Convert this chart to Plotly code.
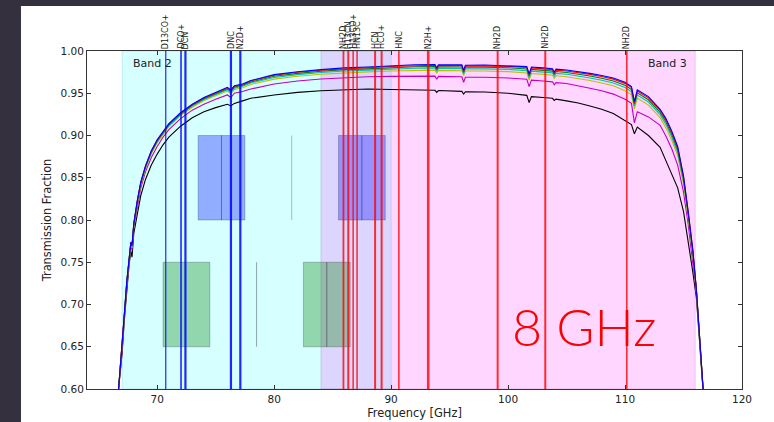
import plotly.graph_objects as go

# ---------------- data ----------------
freq = [66.70, 66.85, 67.00, 67.20, 67.40, 67.60, 67.75, 67.85, 68.00, 68.30,
        68.60, 69.00, 69.50, 70.00, 70.50, 71.00, 72.00, 73.00, 74.00, 75.00,
        76.00, 76.30, 76.60, 77.30, 78.00, 80.00, 82.00, 84.00, 86.00, 88.00,
        90.00, 92.00, 93.75, 93.90, 94.05, 96.05, 96.20, 96.35, 98.00, 100.00,
        101.60, 101.80, 102.00, 103.00, 103.80, 103.95, 104.10, 105.00, 106.00, 107.00,
        108.00, 109.00, 110.00, 110.55, 110.80, 111.05, 112.00, 113.00, 113.50, 114.00,
        114.50, 115.00, 115.40, 115.80, 116.10, 116.30, 116.50, 116.70]

trans_blue = [.6000, .6250, .6480, .6900, .7270, .7550, .7740, .7700, .7960, .8230,
              .8450, .8640, .8820, .8950, .9050, .9140, .9270, .9370, .9450, .9510,
              .9570, .9540, .9590, .9610, .9650, .9720, .9755, .9780, .9800, .9810,
              .9825, .9838, .9840, .9800, .9838, .9836, .9770, .9832, .9834, .9828,
              .9815, .9730, .9810, .9800, .9790, .9750, .9785, .9775, .9758, .9735,
              .9710, .9680, .9630, .9580, .9400, .9540, .9460, .9310, .9200, .9050,
              .8870, .8520, .8100, .7640, .7180, .6760, .6350, .5950]

trans_red = [.6000, .6249, .6478, .6898, .7268, .7548, .7737, .7696, .7956, .8226,
             .8445, .8635, .8815, .8945, .9045, .9135, .9265, .9365, .9445, .9505,
             .9564, .9534, .9584, .9604, .9644, .9713, .9748, .9773, .9792, .9802,
             .9817, .9829, .9831, .9791, .9829, .9827, .9762, .9823, .9824, .9818,
             .9805, .9720, .9800, .9790, .9780, .9740, .9774, .9764, .9747, .9723,
             .9698, .9667, .9617, .9567, .9389, .9527, .9446, .9297, .9185, .9035,
             .8855, .8507, .8090, .7632, .7177, .6759, .6349, .5949]

trans_green = [.6000, .6247, .6475, .6894, .7264, .7544, .7731, .7689, .7950, .8219,
               .8437, .8627, .8806, .8936, .9037, .9127, .9257, .9357, .9436, .9496,
               .9554, .9525, .9573, .9594, .9633, .9701, .9735, .9760, .9779, .9789,
               .9803, .9814, .9816, .9777, .9814, .9811, .9748, .9807, .9808, .9802,
               .9788, .9703, .9782, .9772, .9762, .9723, .9757, .9746, .9728, .9704,
               .9678, .9646, .9594, .9544, .9370, .9505, .9423, .9274, .9160, .9010,
               .8831, .8486, .8072, .7619, .7172, .6757, .6348, .5948]

trans_cyan = [.6000, .6244, .6472, .6890, .7259, .7539, .7725, .7680, .7943, .8210,
              .8428, .8618, .8796, .8926, .9028, .9118, .9248, .9348, .9426, .9485,
              .9542, .9513, .9561, .9582, .9621, .9686, .9721, .9745, .9764, .9774,
              .9786, .9796, .9797, .9759, .9795, .9792, .9731, .9788, .9789, .9782,
              .9767, .9682, .9761, .9751, .9741, .9703, .9735, .9724, .9706, .9681,
              .9654, .9621, .9567, .9517, .9347, .9478, .9396, .9247, .9130, .8980,
              .8801, .8461, .8051, .7604, .7166, .6754, .6346, .5946]

trans_yellow = [.6000, .6241, .6467, .6885, .7252, .7532, .7716, .7669, .7934, .8199,
                .8415, .8605, .8783, .8913, .9015, .9105, .9235, .9335, .9413, .9470,
                .9526, .9498, .9544, .9566, .9604, .9667, .9701, .9725, .9743, .9753,
                .9763, .9772, .9773, .9736, .9771, .9767, .9708, .9763, .9764, .9756,
                .9740, .9655, .9733, .9723, .9713, .9676, .9707, .9695, .9676, .9650,
                .9622, .9588, .9531, .9481, .9316, .9443, .9359, .9211, .9090, .8940,
                .8762, .8428, .8023, .7583, .7158, .6751, .6343, .5943]

trans_magenta = [.6000, .6230, .6450, .6870, .7230, .7510, .7690, .7640, .7910, .8170,
                 .8380, .8570, .8740, .8870, .8980, .9070, .9200, .9300, .9370, .9430,
                 .9480, .9450, .9500, .9520, .9550, .9610, .9645, .9668, .9685, .9695,
                 .9700, .9703, .9703, .9665, .9700, .9695, .9630, .9690, .9690, .9680,
                 .9665, .9580, .9655, .9645, .9635, .9600, .9625, .9615, .9590, .9560,
                 .9530, .9490, .9430, .9380, .9150, .9280, .9220, .9120, .8990, .8840,
                 .8650, .8330, .7950, .7520, .7130, .6740, .6340, .5940]

trans_black = [.6000, .6210, .6420, .6830, .7190, .7470, .7630, .7560, .7840, .8090,
               .8290, .8480, .8650, .8780, .8890, .8980, .9110, .9210, .9280, .9330,
               .9370, .9350, .9380, .9410, .9440, .9480, .9510, .9530, .9540, .9550,
               .9545, .9540, .9535, .9510, .9532, .9522, .9490, .9518, .9515, .9500,
               .9475, .9390, .9460, .9450, .9440, .9415, .9430, .9410, .9385, .9350,
               .9310, .9260, .9180, .9130, .9020, .9100, .9000, .8860, .8700, .8550,
               .8380, .8100, .7750, .7380, .7080, .6720, .6320, .5920]

# Band coverage (GHz)
band2_range = [67.0, 90.0]
band3_range = [84.0, 116.0]

# Molecular lines (GHz)
blue_line_names = ["D13CO+", "DCO+", "DCN", "DNC", "N2D+"]
blue_line_freqs = [70.733, 72.039, 72.415, 76.306, 77.109]
blue_line_widths = [1.2, 1.6, 2.2, 2.2, 2.2]

red_line_names = ["NH2D", "H13CN", "H13CO+", "HN13C", "HCN", "HCO+", "HNC",
                  "N2H+", "NH2D", "NH2D", "NH2D"]
red_line_freqs = [85.926, 86.340, 86.754, 87.091, 88.632, 89.189, 90.664,
                  93.173, 99.110, 103.180, 110.150]
red_line_widths = [1.8, 2.0, 1.5, 1.5, 2.0, 2.0, 1.6, 2.6, 2.0, 2.0, 1.6]

# Spectral windows (GHz) and local oscillators
blue_spw_lo = [73.5, 75.5, 85.5, 87.5]
blue_spw_hi = [75.5, 77.5, 87.5, 89.5]
blue_spw_ylim = [0.80, 0.90]
blue_lo_freq = 81.5

green_spw_lo = [70.5, 82.5, 84.5]
green_spw_hi = [74.5, 84.5, 86.5]
green_spw_ylim = [0.65, 0.75]
green_lo_freq = 78.5

x_ticks = [70, 80, 90, 100, 110, 120]
y_ticks = [0.60, 0.65, 0.70, 0.75, 0.80, 0.85, 0.90, 0.95, 1.00]

# ---------------- figure ----------------
FONT = "DejaVu Sans"
fig = go.Figure()

series = [
    (trans_black, "#000000"),
    (trans_magenta, "#c000c0"),
    (trans_yellow, "#c0c000"),
    (trans_cyan, "#00c0c0"),
    (trans_green, "#008000"),
    (trans_red, "#ff0000"),
    (trans_blue, "#0000ff"),
]
for vals, col in series:
    fig.add_trace(go.Scatter(x=freq, y=vals, mode="lines",
                             line=dict(color=col, width=1.1),
                             showlegend=False, hoverinfo="skip"))

shapes = []
# band shading
shapes.append(dict(type="rect", xref="x", yref="paper", x0=band2_range[0], x1=band2_range[1],
                   y0=0, y1=1, fillcolor="rgba(0,255,255,0.16)",
                   line=dict(color="rgba(0,120,120,0.15)", width=1), layer="below"))
shapes.append(dict(type="rect", xref="x", yref="paper", x0=band3_range[0], x1=band3_range[1],
                   y0=0, y1=1, fillcolor="rgba(255,0,255,0.16)",
                   line=dict(color="rgba(120,0,120,0.15)", width=1), layer="below"))
# spectral windows
for lo, hi in zip(blue_spw_lo, blue_spw_hi):
    shapes.append(dict(type="rect", xref="x", yref="y", x0=lo, x1=hi,
                       y0=blue_spw_ylim[0], y1=blue_spw_ylim[1],
                       fillcolor="rgba(0,0,255,0.32)",
                       line=dict(color="rgba(0,0,0,0.22)", width=1), layer="below"))
for lo, hi in zip(green_spw_lo, green_spw_hi):
    shapes.append(dict(type="rect", xref="x", yref="y", x0=lo, x1=hi,
                       y0=green_spw_ylim[0], y1=green_spw_ylim[1],
                       fillcolor="rgba(0,128,0,0.32)",
                       line=dict(color="rgba(0,0,0,0.22)", width=1), layer="below"))
shapes.append(dict(type="line", xref="x", yref="y", x0=blue_lo_freq, x1=blue_lo_freq,
                   y0=blue_spw_ylim[0], y1=blue_spw_ylim[1],
                   line=dict(color="rgba(0,0,0,0.25)", width=1), layer="below"))
shapes.append(dict(type="line", xref="x", yref="y", x0=green_lo_freq, x1=green_lo_freq,
                   y0=green_spw_ylim[0], y1=green_spw_ylim[1],
                   line=dict(color="rgba(0,0,0,0.35)", width=1), layer="below"))
# molecular lines
for f, w in zip(blue_line_freqs, blue_line_widths):
    shapes.append(dict(type="line", xref="x", yref="paper", x0=f, x1=f, y0=0, y1=1,
                       line=dict(color="rgba(0,0,255,0.85)", width=w), layer="above"))
for f, w in zip(red_line_freqs, red_line_widths):
    shapes.append(dict(type="line", xref="x", yref="paper", x0=f, x1=f, y0=0, y1=1,
                       line=dict(color="rgba(255,0,0,0.8)", width=w), layer="above"))

# dark slide frame (outside the chart)
shapes.append(dict(type="rect", xref="paper", yref="paper", x0=-0.2, x1=-0.1008,
                   y0=-0.2, y1=1.3, fillcolor="#34303e", line=dict(width=0), layer="below"))
shapes.append(dict(type="rect", xref="paper", yref="paper", x0=-0.2, x1=1.1,
                   y0=1.133, y1=1.3, fillcolor="#34303e", line=dict(width=0), layer="below"))

annotations = []
for name, f in zip(blue_line_names + red_line_names, blue_line_freqs + red_line_freqs):
    annotations.append(dict(x=f, y=1, xref="x", yref="paper", text=name,
                            textangle=-90, showarrow=False, xanchor="center",
                            yanchor="bottom", yshift=0,
                            font=dict(family=FONT, size=8, color="#222222")))
annotations.append(dict(x=69.6, y=0.963, xref="x", yref="paper", text="Band 2",
                        showarrow=False, xanchor="center", yanchor="middle",
                        font=dict(family=FONT, size=11, color="#222222")))
annotations.append(dict(x=113.63, y=0.963, xref="x", yref="paper", text="Band 3",
                        showarrow=False, xanchor="center", yanchor="middle",
                        font=dict(family=FONT, size=11, color="#222222")))
annotations.append(dict(x=0.7595, y=0.187, xref="paper", yref="paper", text="8 GHz",
                        showarrow=False, xanchor="center", yanchor="middle",
                        font=dict(family="Lato", size=52, color="#ff0000", weight=300)))

fig.update_layout(
    width=774, height=422,
    margin=dict(l=87, r=32, t=51, b=33, autoexpand=False),
    paper_bgcolor="white", plot_bgcolor="white",
    shapes=shapes, annotations=annotations,
    font=dict(family=FONT, size=10, color="#222222"),
    showlegend=False,
)
fig.update_xaxes(range=[64, 120], tickvals=x_ticks, ticktext=[str(t) for t in x_ticks],
                 ticks="inside", ticklen=4, tickcolor="#333", showline=True,
                 linecolor="#333", linewidth=1, mirror="ticks", showgrid=False,
                 zeroline=False, tickfont=dict(size=10.5),
                 title=dict(text="Frequency [GHz]", font=dict(size=11.4), standoff=5))
fig.update_yaxes(range=[0.6, 1.0], tickvals=y_ticks,
                 ticktext=["%.2f" % t for t in y_ticks],
                 ticks="inside", ticklen=4, tickcolor="#333", showline=True,
                 linecolor="#333", linewidth=1, mirror="ticks", showgrid=False,
                 zeroline=False, tickfont=dict(size=10.5),
                 title=dict(text="Transmission Fraction", font=dict(size=11.4), standoff=6))

fig.write_html("out.html", config={"displayModeBar": False},
               post_script="document.body.style.margin='0';document.body.style.padding='0';")
